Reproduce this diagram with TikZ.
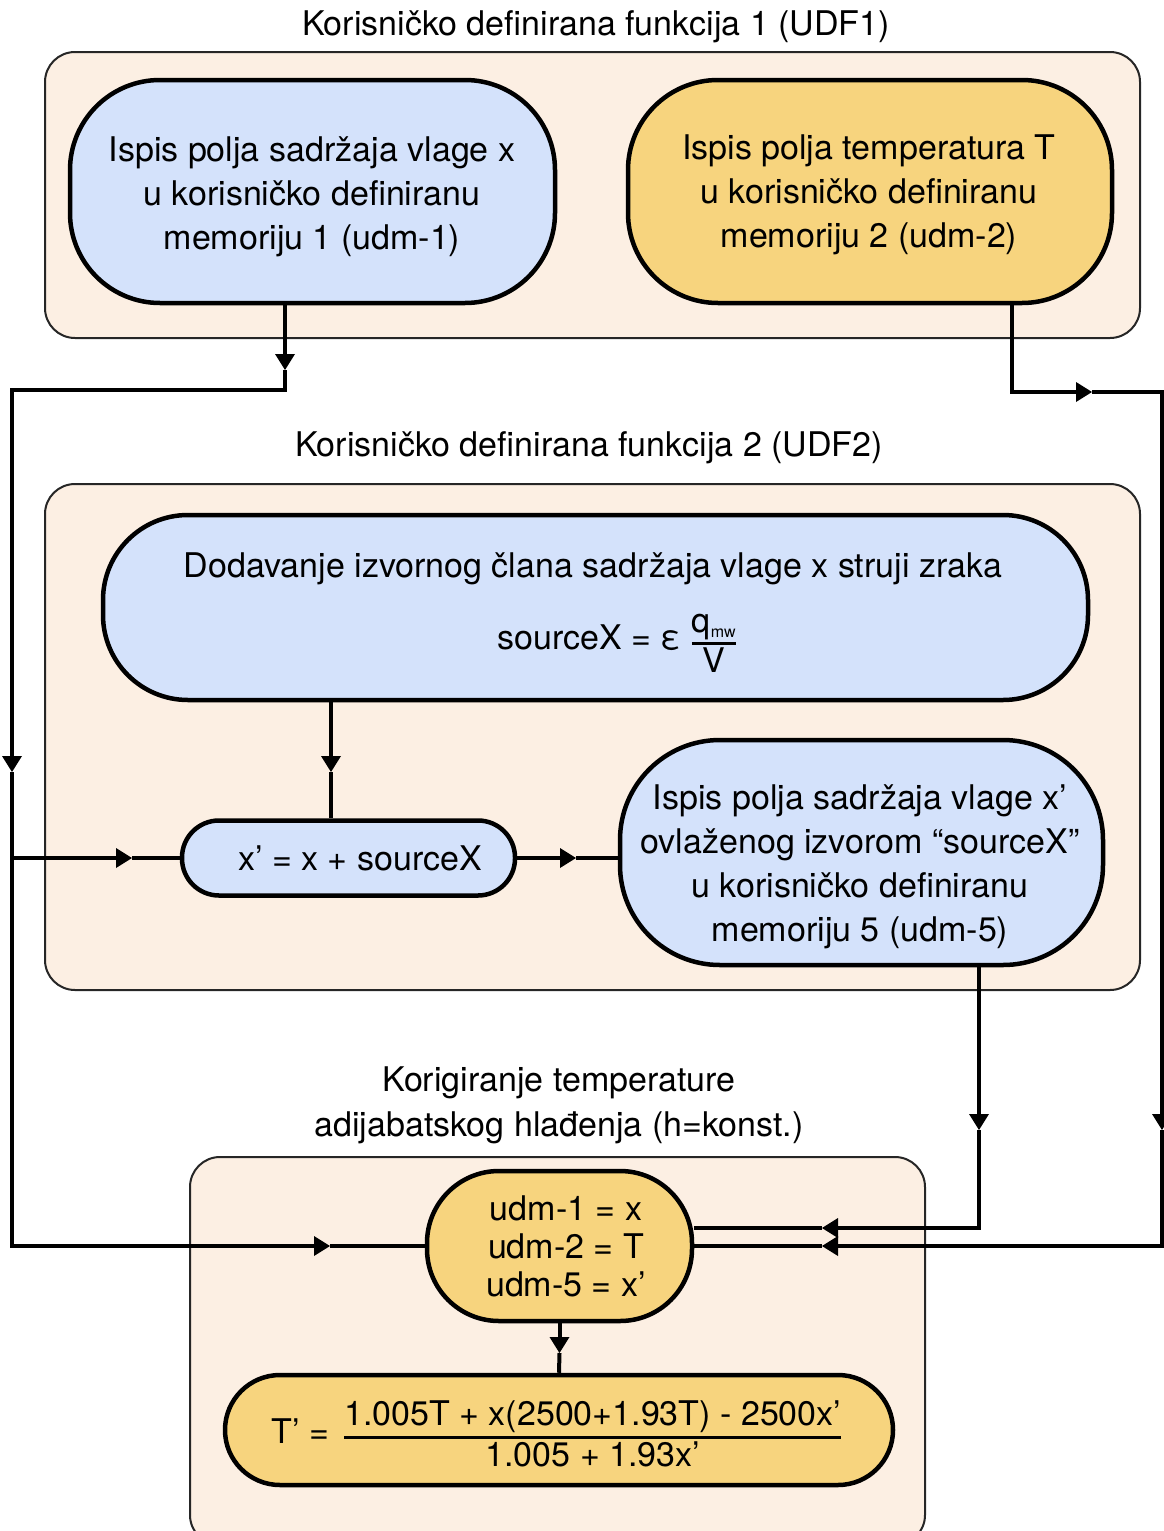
\documentclass[tikz,border=0pt]{standalone}
\usepackage{fontspec}
\setmainfont{TeX Gyre Heros}
\usepackage{xcolor}
\definecolor{ColBlue}{RGB}{212,226,251}
\definecolor{ColYellow}{RGB}{247,212,126}
\definecolor{ColPanel}{RGB}{252,239,227}
\usepackage{tikz}
\usetikzlibrary{arrows.meta}
\newcommand{\FracText}[3]{${\hbox{#1}\above #3\hbox{#2}}$}
\tikzstyle{Panel}=[draw=black!85,fill=ColPanel,line width=2pt,rounded corners=30pt,inner sep=0pt]
\tikzstyle{Box}=[draw=black,line width=4.5pt,inner sep=0pt]
\tikzstyle{BoxBlue}=[Box,fill=ColBlue]
\tikzstyle{BoxYellow}=[Box,fill=ColYellow]
\tikzstyle{NodeText}=[align=center,inner sep=0pt,font=\fontsize{34}{44}\selectfont]
\tikzstyle{Edge}=[draw=black,line width=4pt]
\tikzstyle{EdgeTip}=[Edge,-{Triangle[length=16pt,width=20pt,line width=0pt]}]

\begin{document}
\begin{tikzpicture}[x=1pt,y=-1pt]
    \useasboundingbox(0,0)rectangle(1164,1531);
        \node[Panel,minimum width=1095pt,minimum height=286pt](udf1)at(592.5,195){};
        \node[Panel,minimum width=1095pt,minimum height=506pt](udf2)at(592.5,737){};
        \node[Panel,minimum width=735pt,minimum height=388pt](udf3)at(557.5,1351){};
        \node[NodeText](t1)at(596,27){Korisničko definirana funkcija 1 (UDF1)};
        \node[NodeText](t2)at(589,448){Korisničko definirana funkcija 2 (UDF2)};
        \node[NodeText,font=\fontsize{34}{45}\selectfont](t3)at(559,1105){Korigiranje temperature\\adijabatskog hlađenja (h=konst.)};
        \node[BoxBlue,minimum width=485pt,minimum height=223pt,rounded corners=90pt](udm1)at(312.5,191.5){};
        \node[BoxYellow,minimum width=484pt,minimum height=223pt,rounded corners=90pt](udm2)at(870,191.5){};
        \node[BoxBlue,minimum width=985pt,minimum height=185pt,rounded corners=85pt](src)at(595.5,607.5){};
        \node[BoxBlue,minimum width=333pt,minimum height=75pt,rounded corners=37pt](sum)at(348.5,858){};
        \node[BoxBlue,minimum width=483pt,minimum height=225pt,rounded corners=100pt](udm5)at(861.5,852.5){};
        \node[BoxYellow,minimum width=265pt,minimum height=150pt,rounded corners=72pt](read)at(559.5,1246){};
        \node[BoxYellow,minimum width=668pt,minimum height=110pt,rounded corners=55pt](corr)at(559,1430){};
        \node[NodeText](udm1-t)at(312,197){Ispis polja sadržaja vlage x\\u korisničko definiranu\\memoriju 1 (udm-1)};
        \node[NodeText](udm2-t)at(869,195){Ispis polja temperatura T\\u korisničko definiranu\\memoriju 2 (udm-2)};
        \node[NodeText](src-t)at(593,569){Dodavanje izvornog člana sadržaja vlage x struji zraka};
        \node[NodeText](src-f)at(617,643){sourceX = ε \FracText{q\raisebox{-5pt}{\fontsize{16}{16}\selectfont mw}}{V}{2.5pt}};
        \node[NodeText](sum-t)at(360,858){x’ = x + sourceX};
        \node[NodeText](udm5-t)at(860,867){Ispis polja sadržaja vlage x’\\ovlaženog izvorom “sourceX”\\u korisničko definiranu\\memoriju 5 (udm-5)};
        \node[NodeText,font=\fontsize{34}{38}\selectfont](read-t)at(566,1246){udm-1 = x\\udm-2 = T\\udm-5 = x’};
        \node[NodeText](corr-t)at(557,1434){T’ =\hspace{14pt}\FracText{1.005T + x(2500+1.93T) - 2500x’}{1.005 + 1.93x’}{3pt}};
        \coordinate(a1)at(285,370);
        \coordinate(a2)at(285,390);
        \coordinate(a3)at(12,390);
        \coordinate(a4)at(12,772);
        \coordinate(a5)at(12,858);
        \coordinate(a6)at(132,858);
        \coordinate(a7)at(330,1246);
        \coordinate(c1)at(331,772);
        \coordinate(c2)at(576,858);
        \coordinate(b1)at(1012,392);
        \coordinate(b2)at(1092,392);
        \coordinate(b3)at(1162,392);
        \coordinate(b4)at(1162,1130);
        \coordinate(b5)at(822,1246);
        \coordinate(e1)at(979,1130);
        \coordinate(e2)at(822,1228);
        \coordinate(f1)at(559.5,1353);
        \draw[EdgeTip](a1|-udm1.south)--(a1);
        \draw[EdgeTip](a1)--(a2)--(a3)--(a4);
        \draw[EdgeTip](a4)|-(a7);
        \draw[Edge](a7)--(read.west);
        \draw[EdgeTip](a5)--(a6);
        \draw[Edge](a6)--(sum.west);
        \draw[EdgeTip](c1|-src.south)--(c1);
        \draw[Edge](c1)--(c1|-sum.north);
        \draw[EdgeTip](sum.east)--(c2);
        \draw[Edge](c2)--(c2-|udm5.west);
        \draw[EdgeTip](b1|-udm2.south)--(b1)--(b2);
        \draw[EdgeTip](b2)--(b3)--(b4);
        \draw[EdgeTip](b4)|-(b5);
        \draw[Edge](b5)--(read.east);
        \draw[EdgeTip](e1|-udm5.south)--(e1);
        \draw[EdgeTip](e1)|-(e2);
        \draw[Edge](e2)--(e2-|read.east);
        \draw[EdgeTip](read.south)--(f1);
        \draw[Edge](f1)--(corr.north);
    \end{tikzpicture}
\end{document}
